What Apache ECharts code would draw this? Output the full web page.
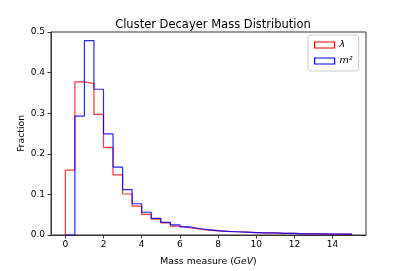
<!DOCTYPE html>
<html><head><meta charset="utf-8">
<script src="https://cdn.jsdelivr.net/npm/echarts@6/dist/echarts.min.js"></script>
<style>html,body{margin:0;padding:0;background:#fff}#c{width:407px;height:271px}</style>
</head><body><div id="c"></div>
<script>
const binEdges = [0,0.5,1,1.5,2,2.5,3,3.5,4,4.5,5,5.5,6,6.5,7,7.5,8,8.5,9,9.5,10,10.5,11,11.5,12,12.5,13,13.5,14,14.5,15];
const lambdaValues = [0.160,0.377,0.373,0.297,0.216,0.148,0.101,0.071,0.051,0.039,0.030,0.022,0.018,0.015,0.012,0.010,0.009,0.008,0.007,0.006,0.005,0.005,0.004,0.004,0.003,0.003,0.003,0.002,0.002,0.002];
const m2Values = [0.000,0.293,0.479,0.359,0.249,0.167,0.112,0.077,0.056,0.041,0.031,0.025,0.020,0.016,0.013,0.011,0.009,0.008,0.007,0.006,0.005,0.005,0.004,0.004,0.003,0.003,0.003,0.002,0.002,0.002];
const xTicks = [0,2,4,6,8,10,12,14];
const yTicks = [0.0,0.1,0.2,0.3,0.4,0.5];

function stepPath(vals){
  const pts=[[binEdges[0],0]];
  for(let i=0;i<vals.length;i++){pts.push([binEdges[i],vals[i]]);pts.push([binEdges[i+1],vals[i]]);}
  pts.push([binEdges[vals.length],0]);
  return pts;
}
const F='DejaVu Sans';
const chart=echarts.init(document.getElementById('c'),null,{renderer:'canvas'});
chart.setOption({
  animation:false,
  backgroundColor:'#fff',
  title:{text:'Cluster Decayer Mass Distribution',left:208,textAlign:'center',top:14,
    textStyle:{fontFamily:F,fontSize:11.5,fontWeight:'normal',color:'#000'}},
  grid:{left:51,right:41,top:32,bottom:35,show:true,borderColor:'#333',borderWidth:1,backgroundColor:'transparent'},
  legend:{orient:'vertical',left:308,top:35,itemWidth:20,itemHeight:6,itemGap:6,padding:[5,6,5,6],
    borderColor:'#ccc',borderWidth:1,borderRadius:3,icon:'rect',
    textStyle:{fontFamily:F,fontSize:9.5,fontStyle:'italic',color:'#000'},
    data:[{name:'λ',itemStyle:{color:'#fff',borderColor:'#f00',borderWidth:1.2}},
          {name:'m²',itemStyle:{color:'#fff',borderColor:'#00f',borderWidth:1.2}}]},
  xAxis:{type:'value',min:-0.75,max:15.75,
    name:'{a|Mass measure (}{b|GeV}{a|)}',nameLocation:'middle',nameGap:22,nameMoveOverlap:false,
    nameTextStyle:{rich:{a:{fontFamily:F,fontSize:9.3,color:'#000'},b:{fontFamily:F,fontSize:9.3,fontStyle:'italic',color:'#000'}}},
    axisLine:{show:true,onZero:false,lineStyle:{color:'#333',width:1}},
    axisTick:{show:true,length:3.5,inside:false,customValues:xTicks,lineStyle:{color:'#333'}},
    axisLabel:{customValues:xTicks,fontFamily:F,fontSize:9,color:'#000',margin:5},
    splitLine:{show:false}},
  yAxis:{type:'value',min:0,max:0.5,interval:0.1,
    name:'Fraction',nameLocation:'middle',nameGap:25,nameMoveOverlap:false,
    nameTextStyle:{fontFamily:F,fontSize:9.3,color:'#000'},
    axisLine:{show:true,onZero:false,lineStyle:{color:'#333',width:1}},
    axisTick:{show:true,length:3.5,lineStyle:{color:'#333'}},
    axisLabel:{fontFamily:F,fontSize:9,color:'#000',margin:6,formatter:v=>v.toFixed(1)},
    splitLine:{show:false}},
  series:[
    {name:'λ',type:'line',data:stepPath(lambdaValues),showSymbol:false,symbol:'none',
      lineStyle:{color:'#f00',width:1.2,opacity:0.8},itemStyle:{color:'#f00'},z:2},
    {name:'m²',type:'line',data:stepPath(m2Values),showSymbol:false,symbol:'none',
      lineStyle:{color:'#00f',width:1.2,opacity:0.85},itemStyle:{color:'#00f'},z:3}
  ]
});
</script></body></html>
